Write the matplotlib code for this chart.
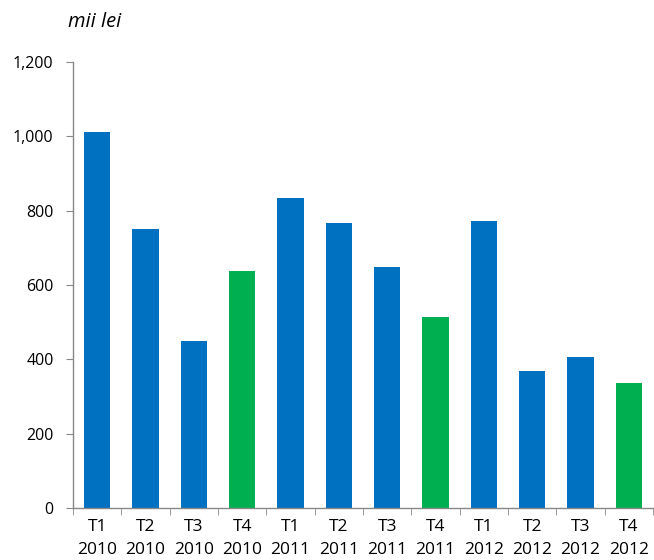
import matplotlib
matplotlib.use("Agg")
import matplotlib.pyplot as plt
from matplotlib.ticker import FuncFormatter, FixedLocator

quarters = ["T1", "T2", "T3", "T4"] * 3
years = ["2010"] * 4 + ["2011"] * 4 + ["2012"] * 4
values = [1012, 751, 449, 638, 834, 767, 648, 514, 772, 369, 406, 336]
colors = ["#0070C0", "#0070C0", "#0070C0", "#00B050"] * 3
y_ticks = [0, 200, 400, 600, 800, 1000, 1200]

plt.rcParams['font.family'] = ['Open Sans', 'DejaVu Sans']

fig = plt.figure(figsize=(6.54, 5.6), dpi=100)
ax = fig.add_axes([73/654, 1 - 508/560, 580/654, 446/560])

x = list(range(len(values)))
ax.bar(x, values, width=0.55, color=colors, zorder=2)

ax.set_xlim(-0.5, len(values) - 0.5)
ax.set_ylim(0, 1200)
ax.set_yticks(y_ticks)
ax.yaxis.set_major_formatter(FuncFormatter(lambda v, p: f"{int(v):,}"))

ax.set_xticks(x)
ax.set_xticklabels([f"{q}\n{y}" for q, y in zip(quarters, years)], fontsize=12.5, linespacing=1.6)
ax.tick_params(axis='x', length=0, pad=8)
ax.xaxis.set_minor_locator(FixedLocator([i - 0.5 for i in range(len(values) + 1)]))
ax.tick_params(axis='x', which='minor', length=5, color='#888888', direction='out')
ax.tick_params(axis='y', length=5, color='#888888', labelsize=11.5, pad=9)

for s in ['top', 'right']:
    ax.spines[s].set_visible(False)
for s in ['left', 'bottom']:
    ax.spines[s].set_color('#888888')
    ax.spines[s].set_linewidth(1.0)

fig.text(68/654, 1 - 22/560, "mii lei", fontsize=14.5, style='italic', va='center', ha='left')

fig.savefig("out.png", dpi=100)
